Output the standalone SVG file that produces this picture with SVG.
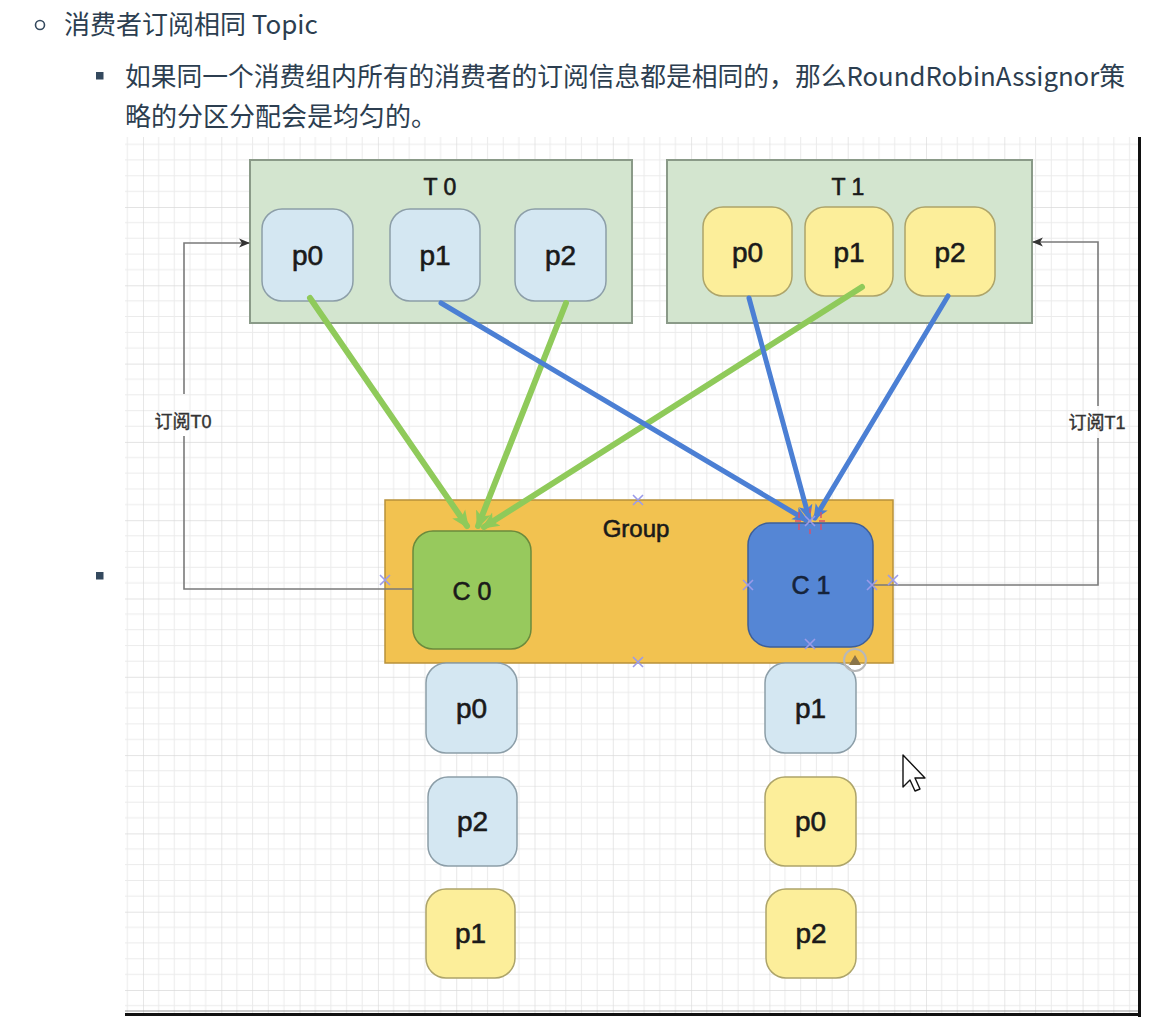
<svg xmlns="http://www.w3.org/2000/svg" width="1161" height="1025" viewBox="0 0 1161 1025">
<style>
.hd{font-family:"Noto Sans CJK SC","Noto Sans",sans-serif;font-size:26px;fill:#2c3e50}
.lbl{font-family:"Liberation Sans","Noto Sans CJK SC",sans-serif;fill:#1a1a1a;stroke:#1a1a1a;stroke-width:0.6;text-anchor:middle}
.pt{font-size:28px}
.tt{font-size:23px}
.pb{fill:#d4e7f2;stroke:#8c9ea8;stroke-width:1.5}
.py{fill:#fcee9a;stroke:#ada46a;stroke-width:1.5}
.ct{fill:#d3e5cf;stroke:#8a9a88;stroke-width:2}
.gl{stroke:#8fca5a;stroke-width:6;fill:none;stroke-linecap:round}
.bl{stroke:#4b7fd4;stroke-width:5;fill:none;stroke-linecap:round}
.gy{stroke:#7a7a7a;stroke-width:1.6;fill:none}
.xm{stroke:#9b9bea;stroke-width:1.6}
.sl{font-family:"Liberation Sans","Noto Sans CJK SC",sans-serif;font-size:18px;fill:#333;stroke:#333;stroke-width:0.4}
</style>
<defs>
<pattern id="grid" patternUnits="userSpaceOnUse" x="143" y="128.7" width="78.3" height="78.3">
<path d="M15.66 0V78.3M31.32 0V78.3M46.98 0V78.3M62.64 0V78.3M0 15.66H78.3M0 31.32H78.3M0 46.98H78.3M0 62.64H78.3" stroke="#ebebeb" stroke-width="1"/>
<path d="M0 0V78.3M0 0H78.3" stroke="#dadada" stroke-width="1.3"/>
</pattern>
<marker id="ag" viewBox="0 0 16 16" refX="13" refY="8" markerWidth="18" markerHeight="18" markerUnits="userSpaceOnUse" orient="auto">
<path d="M0 1L16 8L0 15L4 8Z" fill="#8fca5a"/>
</marker>
<marker id="ab" viewBox="0 0 16 16" refX="13" refY="8" markerWidth="16" markerHeight="16" markerUnits="userSpaceOnUse" orient="auto">
<path d="M0 1L16 8L0 15L4 8Z" fill="#4b7fd4"/>
</marker>
<marker id="ak" viewBox="0 0 10 10" refX="9" refY="5" markerWidth="11" markerHeight="11" markerUnits="userSpaceOnUse" orient="auto">
<path d="M0 1L10 5L0 9L2.5 5Z" fill="#333"/>
</marker>
</defs>
<rect width="1161" height="1025" fill="#ffffff"/>

<!-- header text -->
<g id="header">
<circle cx="40" cy="25" r="4.5" fill="none" stroke="#34495e" stroke-width="1.6"/>
<text class="hd" x="64" y="34">消费者订阅相同 Topic</text>
<rect x="96" y="72" width="7.5" height="7.5" fill="#34495e"/>
<text class="hd" x="125" y="86" textLength="1000" lengthAdjust="spacingAndGlyphs">如果同一个消费组内所有的消费者的订阅信息都是相同的，那么RoundRobinAssignor策</text>
<text class="hd" x="125" y="126">略的分区分配会是均匀的。</text>
<rect x="96" y="572" width="7.5" height="7.5" fill="#34495e"/>
</g>

<!-- screenshot background -->
<rect x="125" y="137" width="1013" height="877" fill="#ffffff"/>
<rect x="125" y="137" width="1013" height="877" fill="url(#grid)"/>
<rect x="1138" y="137" width="3" height="880" fill="#111"/>
<rect x="125" y="1013" width="1016" height="3" fill="#111"/>
<line x1="125" y1="1011" x2="1138" y2="1011" stroke="#999" stroke-width="1"/>

<!-- containers -->
<g id="T0">
<rect class="ct" x="250" y="160" width="382" height="163"/>
<text class="lbl tt" x="440" y="195">T 0</text>
</g>
<g id="T1">
<rect class="ct" x="667" y="160" width="365" height="163"/>
<text class="lbl tt" x="848" y="195">T 1</text>
</g>
<g id="Group">
<rect x="385" y="500" width="508" height="163" fill="#f2c250" stroke="#b8913a" stroke-width="1.5"/>
<text class="lbl" x="636" y="537" font-size="24">Group</text>
</g>

<!-- topic partitions -->
<g id="T0-p0"><rect class="pb" x="262" y="209" width="91" height="92" rx="20"/><text class="lbl pt" x="307.5" y="265">p0</text></g>
<g id="T0-p1"><rect class="pb" x="390" y="209" width="90" height="92" rx="20"/><text class="lbl pt" x="435" y="265">p1</text></g>
<g id="T0-p2"><rect class="pb" x="515" y="209" width="91" height="92" rx="20"/><text class="lbl pt" x="560.5" y="265">p2</text></g>
<g id="T1-p0"><rect class="py" x="703" y="207" width="89" height="89" rx="20"/><text class="lbl pt" x="747.5" y="262">p0</text></g>
<g id="T1-p1"><rect class="py" x="805" y="207" width="88" height="89" rx="20"/><text class="lbl pt" x="849" y="262">p1</text></g>
<g id="T1-p2"><rect class="py" x="905" y="207" width="90" height="89" rx="20"/><text class="lbl pt" x="950" y="262">p2</text></g>

<!-- consumers -->
<g id="C0"><rect x="413" y="531" width="118" height="118" rx="20" fill="#97c95d" stroke="#6b8a3c" stroke-width="1.5"/><text class="lbl" x="472" y="600" font-size="25">C 0</text></g>
<g id="C1"><rect x="748" y="523" width="125" height="124" rx="22" fill="#5586d5" stroke="#3d5f99" stroke-width="1.5"/><text class="lbl" x="811" y="594" font-size="25" style="fill:#15233a;stroke:#15233a">C 1</text></g>

<!-- assigned partitions -->
<g id="C0-p0"><rect class="pb" x="426" y="663" width="91" height="90" rx="20"/><text class="lbl pt" x="471.5" y="718">p0</text></g>
<g id="C0-p2"><rect class="pb" x="428" y="777" width="89" height="89" rx="20"/><text class="lbl pt" x="472.5" y="831">p2</text></g>
<g id="C0-p1"><rect class="py" x="426" y="889" width="89" height="89" rx="20"/><text class="lbl pt" x="470.5" y="943">p1</text></g>
<g id="C1-p1"><rect class="pb" x="765" y="663" width="91" height="90" rx="20"/><text class="lbl pt" x="810.5" y="718">p1</text></g>
<g id="C1-p0"><rect class="py" x="765" y="777" width="91" height="89" rx="20"/><text class="lbl pt" x="810.5" y="831">p0</text></g>
<g id="C1-p2"><rect class="py" x="766" y="889" width="90" height="89" rx="20"/><text class="lbl pt" x="811" y="943">p2</text></g>

<!-- connectors -->
<g id="connectors">
<line class="gl" x1="310" y1="298" x2="467" y2="526" marker-end="url(#ag)"/>
<line class="gl" x1="566" y1="303" x2="478" y2="526" marker-end="url(#ag)"/>
<line class="gl" x1="862" y1="287" x2="484" y2="527" marker-end="url(#ag)"/>
<line class="bl" x1="441" y1="303" x2="806" y2="520" marker-end="url(#ab)"/>
<line class="bl" x1="749" y1="298" x2="809" y2="518" marker-end="url(#ab)"/>
<line class="bl" x1="948" y1="296" x2="815" y2="518" marker-end="url(#ab)"/>
<path class="gy" d="M413 589H184V436M184 394V243H249" marker-end="url(#ak)"/>
<text class="sl" x="183" y="428" text-anchor="middle">订阅T0</text>
<path class="gy" d="M873 585H1098V438M1098 406V242H1033" marker-end="url(#ak)"/>
<text class="sl" x="1097" y="429" text-anchor="middle">订阅T1</text>
</g>

<!-- editor overlays -->
<g id="overlays">
<path class="xm" d="M633 495l10 10M643 495l-10 10M633 657l10 10M643 657l-10 10M380 575l10 10M390 575l-10 10M743 580l10 10M753 580l-10 10M867 580l10 10M877 580l-10 10M888 575l10 10M898 575l-10 10M805 516l10 10M815 516l-10 10M805 639l10 10M815 639l-10 10"/>
<path d="M799 512v6M821 512v6M799 524v6M821 524v6M795 521h6M819 521h6M810 508v5M810 529v5" stroke="#d9506a" stroke-width="1.4"/>
<circle cx="855" cy="660" r="11" fill="none" stroke="#b8b8b8" stroke-width="2"/>
<path d="M849 665L855 655L861 665Z" fill="#8a7448"/>
<path d="M903 755V787L910 780L915 791L920 789L915 778L925 778Z" fill="#fff" stroke="#111" stroke-width="1.4" stroke-linejoin="round"/>
</g>
</svg>
